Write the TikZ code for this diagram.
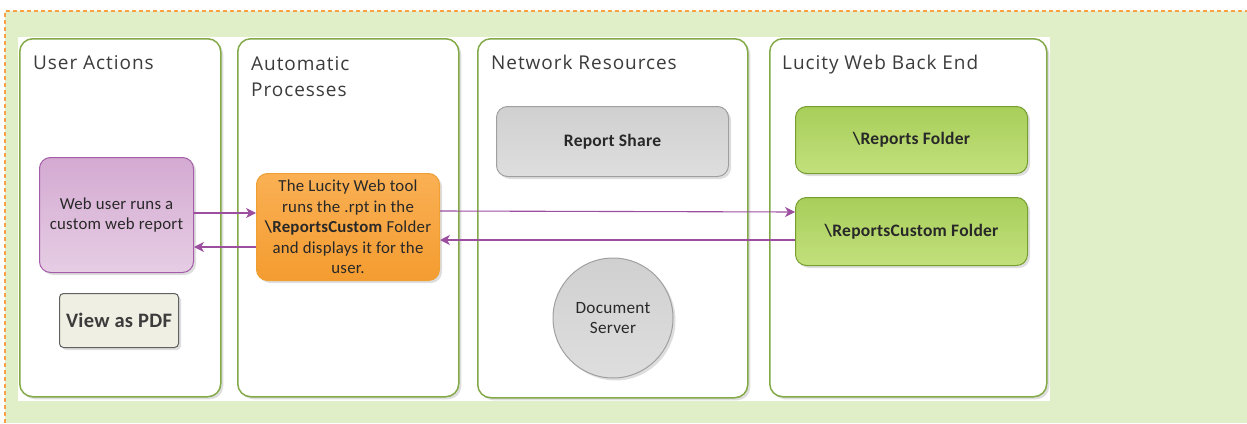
\documentclass[tikz,border=0pt]{standalone}
\usepackage{fontspec}
\setmainfont{Carlito}[LetterSpace=1.5]
\newfontfamily\titlefont{Open Sans}[LetterSpace=5]
\usetikzlibrary{arrows.meta}
\definecolor{bggreen}{RGB}{225,239,201}
\definecolor{borderorange}{RGB}{250,160,70}
\definecolor{laneborder}{RGB}{132,170,72}
\definecolor{titlegray}{RGB}{60,60,60}
\definecolor{purpletop}{RGB}{212,170,210}
\definecolor{purplebot}{RGB}{230,205,228}
\definecolor{purpleline}{RGB}{164,94,168}
\definecolor{orangetop}{RGB}{250,176,84}
\definecolor{orangebot}{RGB}{244,156,48}
\definecolor{orangeline}{RGB}{240,160,50}
\definecolor{greentop}{RGB}{168,206,90}
\definecolor{greenbot}{RGB}{194,224,124}
\definecolor{greenline}{RGB}{118,158,48}
\definecolor{graytop}{RGB}{208,208,208}
\definecolor{graybot}{RGB}{222,222,222}
\definecolor{grayline}{RGB}{160,160,160}
\definecolor{pdffill}{RGB}{239,239,227}
\definecolor{pdfline}{RGB}{96,96,96}
\definecolor{arrowpurple}{RGB}{156,79,159}
\definecolor{boxtext}{RGB}{40,40,40}
\tikzset{
  shadowed/.style={preaction={fill=black,opacity=0.13,transform canvas={shift={(2.5pt,-2.5pt)}}}},
  lane/.style={draw=laneborder,line width=1.5pt,fill=white,rounded corners=13pt,shadowed,anchor=north west,inner sep=0pt},
  lanetitle/.style={font=\titlefont\fontsize{19}{26}\selectfont,text=titlegray,anchor=base west,inner sep=0pt,align=left},
  boxbase/.style={rounded corners=11pt,line width=1pt,anchor=north west,inner sep=2pt,align=center,text=boxtext,shadowed,
     font=\fontsize{16.8}{20.5}\selectfont},
  purplebox/.style={boxbase,draw=purpleline,top color=purpletop,bottom color=purplebot},
  orangebox/.style={boxbase,draw=orangeline,top color=orangetop,bottom color=orangebot},
  greenbox/.style={boxbase,draw=greenline,top color=greentop,bottom color=greenbot,font=\bfseries\fontsize{17.5}{20}\selectfont},
  graybox/.style={boxbase,draw=grayline,top color=graytop,bottom color=graybot,font=\bfseries\fontsize{17.5}{20}\selectfont},
  pdfbox/.style={boxbase,rounded corners=4pt,draw=pdfline,fill=pdffill,font=\bfseries\fontsize{20.5}{22}\selectfont,text=titlegray},
  circbox/.style={circle,draw=grayline,line width=1pt,top color=graytop,bottom color=graybot,shadowed,align=center,inner sep=0pt,
     text=boxtext,font=\fontsize{17.2}{20.5}\selectfont},
  flow/.style={draw=arrowpurple,line width=1.1pt,-{Stealth[length=10pt,width=10pt,inset=3pt]}}
}
\begin{document}
\begin{tikzpicture}[x=1pt,y=-1pt]
\useasboundingbox (0,0) rectangle (1247,423);
% background
\fill[bggreen] (5,11) rectangle (1247,423);
\draw[draw=borderorange,line width=1.3pt,dash pattern=on 4pt off 3pt] (5,423) -- (5,11) -- (1247,11);
\fill[white] (18,37) rectangle (1050,401);
% lanes
\node[lane,minimum width=201,minimum height=358] (ua) at (19,38) {};
\node[lane,minimum width=221,minimum height=358] (ap) at (237,38) {};
\node[lane,minimum width=270,minimum height=359] (nr) at (477,38) {};
\node[lane,minimum width=277,minimum height=358] (be) at (769,38) {};
\node[lanetitle] (tua) at (33,69) {User Actions};
\node[lanetitle] (tap) at (251,70) {Automatic};
\node[lanetitle] (tap2) at (251,96) {Processes};
\node[lanetitle] (tnr) at (491,69) {Network Resources};
\node[lanetitle] (tbe) at (782,69) {Lucity Web Back End};
% boxes
\node[purplebox,minimum width=154,minimum height=115] (web) at (39,157) {Web user runs a\\custom web report};
\node[pdfbox,minimum width=119,minimum height=54] (pdf) at (59,293) {View as PDF};
\node[orangebox,minimum width=183,minimum height=107,inner sep=0pt] (tool) at (256,173) {The Lucity Web tool\\runs the .rpt in the\\\textbf{\textbackslash ReportsCustom} Folder\\and displays it for the\\user.};
\node[graybox,minimum width=232,minimum height=70] (share) at (496,106) {Report Share};
\node[circbox,minimum size=120] (docs) at (613,318) {Document\\Server};
\node[greenbox,minimum width=232,minimum height=67] (rep) at (795,106) {\textbackslash Reports Folder};
\node[greenbox,minimum width=232,minimum height=68] (cust) at (795,197) {\textbackslash ReportsCustom Folder};
% connectors
\draw[flow] (web.east |- 0,213) -- (tool.west |- 0,213);
\draw[flow] (tool.west |- 0,247) -- (web.east |- 0,247);
\draw[flow] (tool.east |- 0,211) -- (cust.west |- 0,212);
\draw[flow] (cust.west |- 0,240) -- (tool.east |- 0,240);
\end{tikzpicture}
\end{document}
